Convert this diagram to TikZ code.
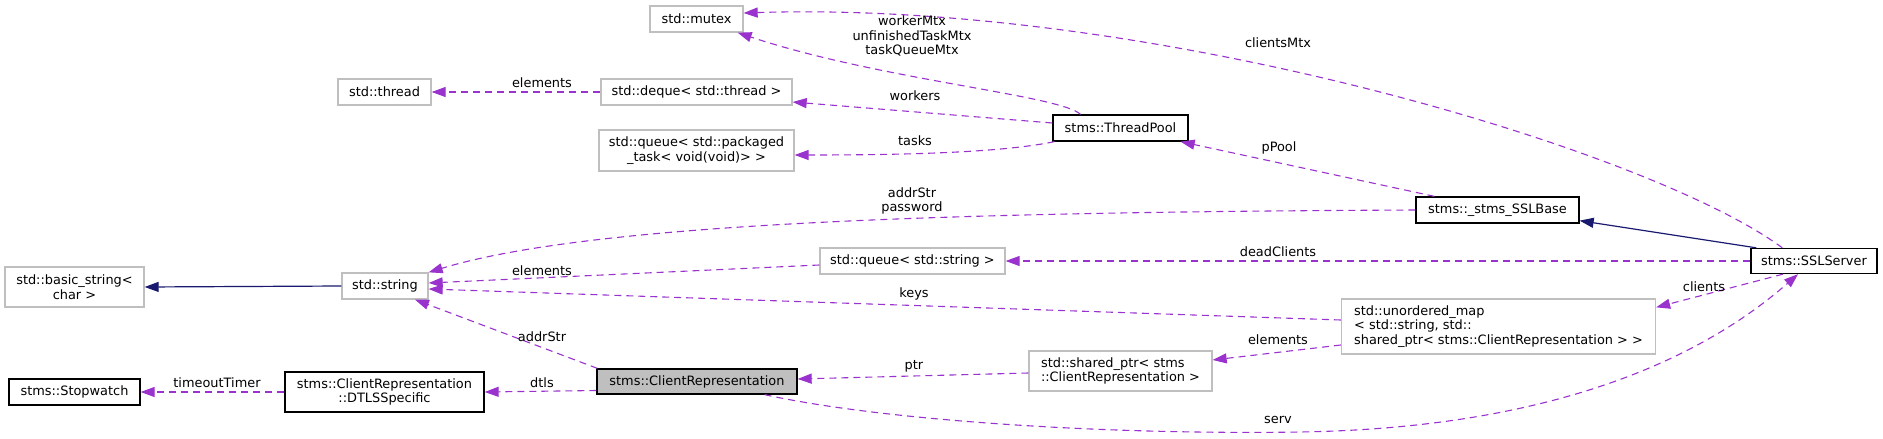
\documentclass[tikz,border=0pt]{standalone}
\usepackage{fontspec}
\setmainfont{DejaVu Sans}
\usetikzlibrary{arrows.meta}
\definecolor{usecol}{HTML}{9A32CD}
\definecolor{inhcol}{HTML}{191970}
\definecolor{extgray}{HTML}{BFBFBF}
\tikzset{
    usage/.style={draw=usecol, line width=1.1pt, dash pattern=on 7pt off 5pt,
        -{Triangle[length=14pt,width=10pt]}},
    inherit/.style={draw=inhcol, line width=1.2pt, -{Triangle[length=14pt,width=10pt]}},
    extbox/.style={draw=extgray, line width=1.3pt, inner sep=0pt, align=center},
    clsbox/.style={draw=black, line width=1.3pt, inner sep=0pt, align=center},
    curbox/.style={clsbox, fill=extgray},
    lbl/.style={inner sep=0pt, align=center}
}

\begin{document}
\begin{tikzpicture}[x=1pt, y=-1pt]
    \tikzstyle{every node}=[font=\fontsize{12.9}{14.5}\selectfont];
    \useasboundingbox (0,0) rectangle (1883,439);
    % classes
    \node[extbox, minimum width=93, minimum height=26] (mutex) at (696.5,19) {std::mutex};
    \node[extbox, minimum width=93, minimum height=26] (thread) at (384.5,92) {std::thread};
    \node[extbox, minimum width=191, minimum height=26] (deque) at (696.5,92) {std::deque< std::thread >};
    \node[extbox, minimum width=195, minimum height=41] (qtask) at (696.5,150.5) {std::queue< std::packaged\\\_task< void(void)> >};
    \node[clsbox, minimum width=135, minimum height=26] (pool) at (1120.5,128) {stms::ThreadPool};
    \node[clsbox, minimum width=163, minimum height=26] (sslbase) at (1497.5,210) {stms::\_stms\_SSLBase};
    \node[extbox, minimum width=139, minimum height=40] (basicstr) at (74.5,287) {std::basic\_string<\\char >};
    \node[extbox, minimum width=86, minimum height=26] (string) at (385,286) {std::string};
    \node[extbox, minimum width=185, minimum height=26] (qstring) at (912.5,261) {std::queue< std::string >};
    \node[clsbox, minimum width=126, minimum height=25] (server) at (1814,261) {stms::SSLServer};
    \node[extbox, minimum width=314, minimum height=55, align=left] (umap) at (1498.5,326.5)
        {std::unordered\_map\\< std::string, std::\\shared\_ptr< stms::ClientRepresentation > >};
    \node[extbox, minimum width=183, minimum height=40, align=left] (sharedptr) at (1120.5,371)
        {std::shared\_ptr< stms\\::ClientRepresentation >};
    \node[clsbox, minimum width=131, minimum height=26] (stopwatch) at (74.5,392) {stms::Stopwatch};
    \node[clsbox, minimum width=199, minimum height=40] (dtls) at (384.5,392) {stms::ClientRepresentation\\::DTLSSpecific};
    \node[curbox, minimum width=200, minimum height=25] (client) at (697,381.5) {stms::ClientRepresentation};
    % relations
    \draw[inherit] (string.west) -- (basicstr.east);
    \draw[inherit] ([xshift=6pt]server.north west) -- ([yshift=3pt]sslbase.south east);
    \draw[usage] ([xshift=-40pt]pool.north) .. controls (1060,95) and (880,80) .. ([xshift=-6pt]mutex.south east);
    \draw[usage] ([xshift=32pt]server.north west) .. controls (1650,150) and (1150,0) .. ([yshift=6pt]mutex.east);
    \draw[usage] (deque) -- (thread);
    \draw[usage] ([yshift=5pt]pool.west) -- ([yshift=-10pt]deque.east);
    \draw[usage] ([xshift=2pt]pool.south west) .. controls (1000,153) and (900,155) .. ([yshift=-4.5pt]qtask.east);
    \draw[usage] ([xshift=19pt]sslbase.north west) -- ([xshift=-8pt]pool.south east);
    \draw[usage] (sslbase.west) .. controls (1000,212) and (600,220) .. (string.north east);
    \draw[usage] (server.west) -- (qstring.east);
    \draw[usage] ([yshift=-4pt]qstring.west) -- ([yshift=3pt]string.east);
    \draw[usage] ([yshift=6.5pt]umap.west) -- ([yshift=-3pt]string.east);
    \draw[usage] ([xshift=-31pt]server.south) -- ([yshift=-9pt]umap.north east);
    \draw[usage] ([yshift=-18.5pt]umap.west) -- ([yshift=11pt]sharedptr.east);
    \draw[usage] ([yshift=-2pt]sharedptr.west) -- ([yshift=2.5pt]client.east);
    \draw[usage] ([xshift=1pt]client.north west) -- ([xshift=30pt]string.south);
    \draw[usage] ([yshift=-9pt]client.west) -- (dtls.east);
    \draw[usage] (dtls) -- (stopwatch);
    \coordinate (servmid) at (1300,432);
    \draw[usage] ([xshift=-33pt]client.south east) .. controls (880,420) and (1100,435) .. (servmid)
        .. controls (1550,428) and (1700,360) .. ([xshift=-16pt]server.south);
    % member names
    \node[lbl] (lmtx) at (912,36) {workerMtx\\unfinishedTaskMtx\\taskQueueMtx};
    \node[lbl] (lcmtx) at (1278,43) {clientsMtx};
    \node[lbl] (lelem1) at (542,83) {elements};
    \node[lbl] (lworkers) at (915,96) {workers};
    \node[lbl] (ltasks) at (915,141) {tasks};
    \node[lbl] (lpool) at (1279,148) {pPool};
    \node[lbl] (laddr1) at (912,201) {addrStr\\password};
    \node[lbl] (ldead) at (1278,252) {deadClients};
    \node[lbl] (lelem2) at (542,271) {elements};
    \node[lbl] (lkeys) at (914,294) {keys};
    \node[lbl] (lclients) at (1704,287) {clients};
    \node[lbl] (laddr2) at (542,337) {addrStr};
    \node[lbl] (lelem3) at (1278,340) {elements};
    \node[lbl] (lptr) at (914,366) {ptr};
    \node[lbl] (ldtls) at (542,383) {dtls};
    \node[lbl] (ltimer) at (217,383) {timeoutTimer};
    \node[lbl] (lserv) at (1278,420) {serv};
\end{tikzpicture}
\end{document}
